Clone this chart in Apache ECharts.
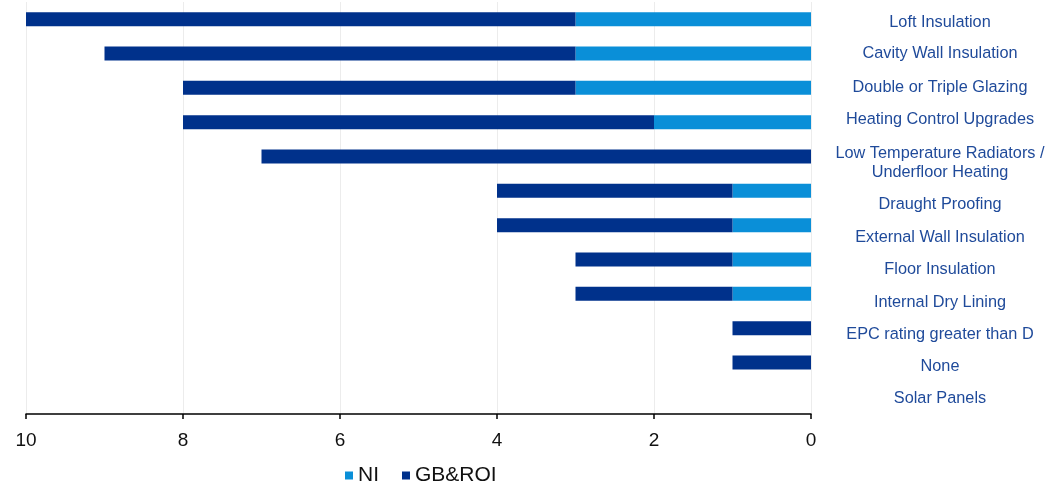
<!DOCTYPE html>
<html>
<head>
<meta charset="utf-8">
<script src="https://cdn.jsdelivr.net/npm/echarts@6/dist/echarts.min.js"></script>
<style>
  html, body { margin: 0; padding: 0; background: #fff; }
  #chart { width: 1045px; height: 484px; }
</style>
</head>
<body>
<div id="chart"></div>
<script>
// Energy-efficiency measures, counts by region
const categories = [
  'Loft Insulation',
  'Cavity Wall Insulation',
  'Double or Triple Glazing',
  'Heating Control Upgrades',
  'Low Temperature Radiators /\nUnderfloor Heating',
  'Draught Proofing',
  'External Wall Insulation',
  'Floor Insulation',
  'Internal Dry Lining',
  'EPC rating greater than D',
  'None',
  'Solar Panels'
];
const niValues    = [3, 3, 3, 2, 0, 1, 1, 1, 1, 0, 0, 0];
const gbRoiValues = [7, 6, 5, 6, 7, 3, 3, 2, 2, 1, 1, 0];
const seriesNames = ['NI', 'GB&ROI'];

// vertical nudge (px) of each category caption relative to its bar
const labelShift = [3, 0.5, -0.5, -2.5, 6.3, 14, 12.4, 10.3, 9, 6.4, 4.2, 2];

const font = 'Arial, "Liberation Sans", sans-serif';
const labelColor = '#1f4a9a';

// caption text style plus one blank spacer line per caption; a spacer of
// height 2*s above (or below) the text moves the centred block by s
const rich = {
  t: { fontFamily: font, fontSize: 16.3, color: labelColor, align: 'center', lineHeight: 18.5 }
};
labelShift.forEach((s, i) => {
  rich['sp' + i] = { fontSize: 1, lineHeight: Math.max(0.01, 2 * Math.abs(s)), align: 'center' };
});

const chart = echarts.init(document.getElementById('chart'), null, { renderer: 'canvas' });

chart.setOption({
  animation: false,
  grid: { left: 26, right: 234, top: 2, bottom: 70, containLabel: false, outerBoundsMode: 'none' },
  legend: {
    data: seriesNames,
    left: 340,
    top: 460,
    itemWidth: 8,
    itemHeight: 8,
    itemGap: 23,
    icon: 'rect',
    textStyle: { fontFamily: font, fontSize: 21, color: '#111' }
  },
  xAxis: {
    type: 'value',
    inverse: true,
    min: 0,
    max: 10,
    interval: 2,
    axisLine: { show: true, lineStyle: { color: '#000', width: 1.5 } },
    axisTick: { show: true, length: 5, lineStyle: { color: '#000', width: 1.5 } },
    axisLabel: { fontFamily: font, fontSize: 19, color: '#111', margin: 17 },
    splitLine: { show: true, lineStyle: { color: '#ececec', width: 1 } }
  },
  yAxis: {
    type: 'category',
    data: categories,
    inverse: true,
    position: 'right',
    axisLine: { show: false },
    axisTick: { show: false },
    axisLabel: {
      fontFamily: font,
      fontSize: 16.3,
      color: labelColor,
      align: 'center',
      margin: 129,
      formatter: (value, index) => {
        const body = value.split('\n').map(l => '{t|' + l + '}');
        const spacer = '{sp' + index + '| }';
        return (labelShift[index] >= 0 ? [spacer].concat(body) : body.concat([spacer])).join('\n');
      },
      rich: rich
    }
  },
  series: [
    {
      name: seriesNames[0],
      type: 'bar',
      stack: 'total',
      data: niValues,
      barWidth: 14,
      itemStyle: { color: '#0a8fd8' }
    },
    {
      name: seriesNames[1],
      type: 'bar',
      stack: 'total',
      data: gbRoiValues,
      barWidth: 14,
      itemStyle: { color: '#00318b' }
    }
  ]
});
</script>
</body>
</html>
